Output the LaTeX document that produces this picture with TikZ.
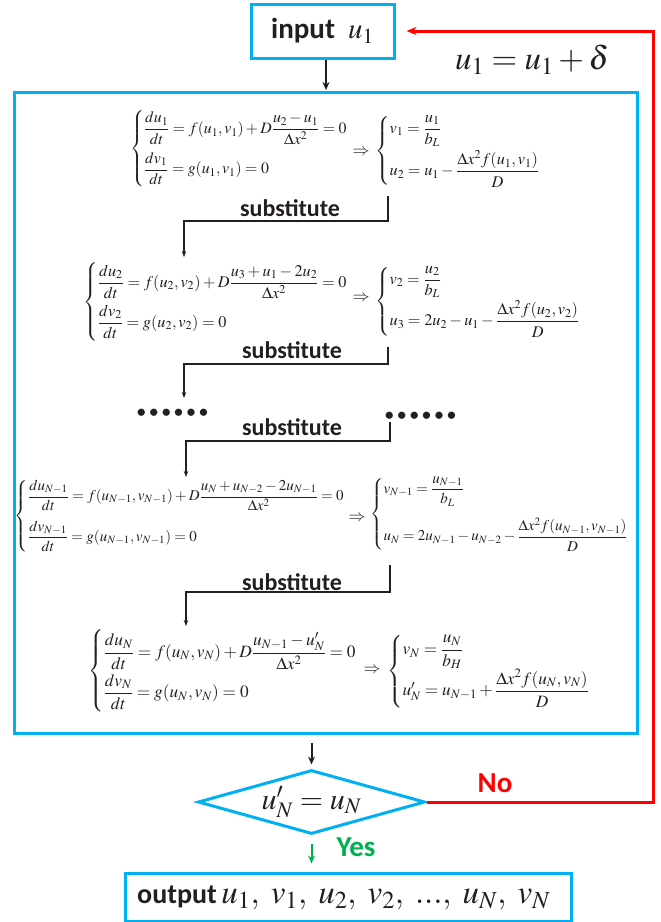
\documentclass[tikz,border=0pt]{standalone}
\usepackage{amsmath}
\usepackage{mathptmx}
\usepackage[no-math]{fontspec}
\newfontfamily\lab{Carlito}
\usetikzlibrary{arrows.meta,shapes.geometric}
\definecolor{cy}{RGB}{0,176,240}
\definecolor{rd}{RGB}{255,0,0}
\definecolor{gr}{RGB}{0,176,80}
\definecolor{ln}{RGB}{35,31,32}
\newcommand{\eqaa}{\fontsize{15.8}{19}\selectfont}
\newcommand{\eqa}{\fontsize{16.3}{19}\selectfont}
\newcommand{\eqb}{\fontsize{15}{18}\selectfont}
\newcommand{\eqc}{\fontsize{17.3}{20}\selectfont}
\newcommand{\impl}{\fontsize{17}{18}\selectfont$\Rightarrow$}
\tikzset{
  cybox/.style={draw=cy,line width=3pt,inner sep=0pt},
  sys/.style={inner sep=0pt,text=ln},
  lbl/.style={inner sep=0pt,text=ln,font=\lab\bfseries\fontsize{24}{26}\selectfont},
  conn/.style={draw=ln,line width=1.3pt,-{Stealth[length=6pt,width=4.5pt]}},
  bigarr/.style={draw=ln,line width=2pt,-{Stealth[length=8pt,width=7pt]}},
  dots/.style={inner sep=0pt,text=ln,font=\lab\bfseries\fontsize{17}{17}\selectfont},
}
\newcommand{\six}{•\hspace{4pt}•\hspace{4pt}•\hspace{4pt}•\hspace{4pt}•\hspace{4pt}•}
\begin{document}
\begin{tikzpicture}[x=1pt,y=-1pt]
\useasboundingbox (0,0) rectangle (661,922);
% boxes
\node[cybox,minimum width=143pt,minimum height=54pt,text=ln] (input) at (322.5,31)
  {\lab\bfseries\fontsize{29}{30}\selectfont input\ \ $u_1$};
\node[cybox,minimum width=623pt,minimum height=641pt] (main) at (325.5,412.5) {};
\node[inner sep=0pt,text=ln] (upd) at (532,60) {\fontsize{33}{38}\selectfont$u_1=u_1+\delta$};
% block 1
\node[sys,anchor=east] (L1) at (348,148.5) {\eqaa$\left\{\begin{array}{@{}l@{}}\dfrac{du_1}{dt}=f(u_1,v_1)+D\dfrac{u_2-u_1}{\Delta x^2}=0\\[13pt]\dfrac{dv_1}{dt}=g(u_1,v_1)=0\end{array}\right.$};
\node[sys] (I1) at (361,152) {\impl};
\node[sys,anchor=west] (R1) at (375,151) {\eqa$\left\{\begin{array}{@{}l@{}}v_1=\dfrac{u_1}{b_L}\\[12pt]u_2=u_1-\dfrac{\Delta x^2f(u_1,v_1)}{D}\end{array}\right.$};
\node[lbl] (s1) at (290,208) {substitute};
% block 2
\node[sys,anchor=east] (L2) at (348,302) {\eqa$\left\{\begin{array}{@{}l@{}}\dfrac{du_2}{dt}=f(u_2,v_2)+D\dfrac{u_3+u_1-2u_2}{\Delta x^2}=0\\[12pt]\dfrac{dv_2}{dt}=g(u_2,v_2)=0\end{array}\right.$};
\node[sys] (I2) at (361,298) {\impl};
\node[sys,anchor=west] (R2) at (375,301.5) {\eqa$\left\{\begin{array}{@{}l@{}}v_2=\dfrac{u_2}{b_L}\\[11pt]u_3=2u_2-u_1-\dfrac{\Delta x^2f(u_2,v_2)}{D}\end{array}\right.$};
\node[lbl] (s2) at (292,350) {substitute};
% dots
\node[dots] (d1) at (172.5,413) {\six};
\node[dots] (d2) at (420.5,416) {\six};
\node[lbl] (s3) at (292,427) {substitute};
% block 4
\node[sys,anchor=east] (L4) at (345,516) {\eqb$\left\{\begin{array}{@{}l@{}}\dfrac{du_{N-1}}{dt}=f(u_{N-1},v_{N-1})+D\dfrac{u_N+u_{N-2}-2u_{N-1}}{\Delta x^2}=0\\[15pt]\dfrac{dv_{N-1}}{dt}=g(u_{N-1},v_{N-1})=0\end{array}\right.$};
\node[sys] (I4) at (357,518) {\impl};
\node[sys,anchor=west] (R4) at (370,514) {\eqb$\left\{\begin{array}{@{}l@{}}v_{N-1}=\dfrac{u_{N-1}}{b_L}\\[19pt]u_N=2u_{N-1}-u_{N-2}-\dfrac{\Delta x^2f(u_{N-1},v_{N-1})}{D}\end{array}\right.$};
\node[lbl] (s4) at (292,582) {substitute};
% block 5
\node[sys,anchor=east] (L5) at (357,671) {\eqc$\left\{\begin{array}{@{}l@{}}\dfrac{du_N}{dt}=f(u_N,v_N)+D\dfrac{u_{N-1}-u'_N}{\Delta x^2}=0\\[11pt]\dfrac{dv_N}{dt}=g(u_N,v_N)=0\end{array}\right.$};
\node[sys] (I5) at (372,670) {\impl};
\node[sys,anchor=west] (R5) at (387,671.5) {\eqc$\left\{\begin{array}{@{}l@{}}v_N=\dfrac{u_N}{b_H}\\[9pt]u'_N=u_{N-1}+\dfrac{\Delta x^2f(u_N,v_N)}{D}\end{array}\right.$};
% connectors inside
\coordinate (a1) at (388,196); \coordinate (b1) at (388,221); \coordinate (c1) at (184,221); \coordinate (e1) at (184,257);
\coordinate (a2) at (388,347); \coordinate (b2) at (388,364); \coordinate (c2) at (184,364); \coordinate (e2) at (184,398);
\coordinate (a3) at (390,422); \coordinate (b3) at (390,441); \coordinate (c3) at (186,441); \coordinate (e3) at (186,477);
\coordinate (a4) at (390,565); \coordinate (b4) at (390,592); \coordinate (c4) at (186,592); \coordinate (e4) at (186,626);
\foreach \i in {1,2,3,4} {\draw[conn] (a\i) -- (b\i) -- (c\i) -- (e\i);}
% decision
\node[diamond,draw=cy,line width=3pt,minimum width=227pt,minimum height=64pt,inner sep=0pt,aspect=3.5,text=ln] (dia) at (311.5,802)
  {\fontsize{30}{32}\selectfont$u'_N=u_N$};
\node[cybox,minimum width=446pt,minimum height=48pt] (out) at (348,897) {};
\node[inner sep=0pt,text=ln,anchor=west] (outt) at (137,898)
  {\lab\bfseries\fontsize{28}{30}\selectfont output\,\fontsize{33}{35}\selectfont$u_1,\;v_1,\;u_2,\;v_2,\;...,\;u_N,\;v_N$};
% arrows
\draw[bigarr] (input.south -| 326,0) -- (326,90);
\draw[bigarr,shorten <=8pt,shorten >=4pt] (main.south -| dia.north) -- (dia.north);
\draw[draw=gr,line width=2pt,-{Stealth[length=8pt,width=7pt]},shorten <=8pt,shorten >=8pt] (dia.south) -- (out.north -| dia.south);
\coordinate (r1) at (653,31);
\draw[draw=rd,line width=3pt,-{Stealth[length=10pt,width=8pt]},shorten >=11pt] (dia.east) -| (r1) -- (input.east);
\node[inner sep=0pt,text=rd] (no) at (495,783) {\lab\bfseries\fontsize{29}{30}\selectfont No};
\node[inner sep=0pt,text=gr] (yes) at (356,847) {\lab\bfseries\fontsize{29}{30}\selectfont Yes};
\end{tikzpicture}
\end{document}
